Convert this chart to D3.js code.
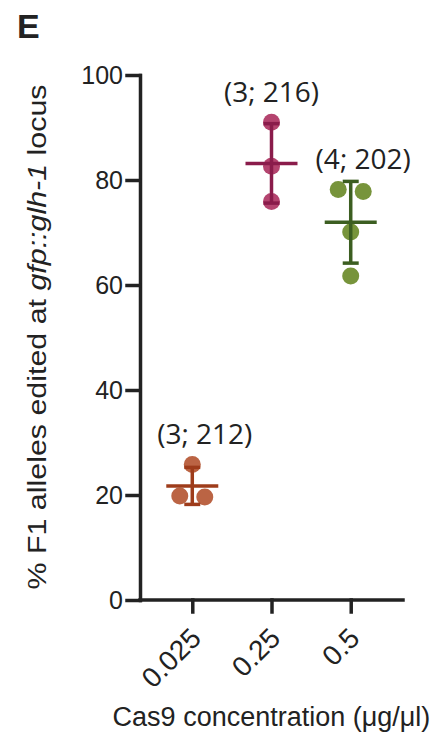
<!doctype html>
<html>
  <head>
    <meta charset="utf-8">
    <script src="https://cdn.jsdelivr.net/npm/d3@7/dist/d3.min.js"></script>
    <style>
      body { margin: 0; background: #fff; }
      .axis path, .axis line { stroke: #222; stroke-width: 3.5; stroke-linecap: square; }
      .axis text { font-family: "Liberation Sans", Arial, sans-serif; font-size: 25px; fill: #222; }
      .count { font-family: "Open Sans", "Noto Sans", sans-serif; font-size: 28px; fill: #222; }
      .title { font-family: "Liberation Sans", Arial, sans-serif; fill: #222; }
    </style>
  </head>
  <body>
    <div id="chart"></div>
    <script>
      // Cas9 concentration groups
      const concentrations = ["0.025", "0.25", "0.5"];
      // % F1 alleles edited, one value per replicate
      const replicates = [
        [25.8, 19.8, 19.6],
        [91.0, 82.6, 75.9],
        [77.8, 78.2, 70.1, 61.7]
      ];
      // total F1 animals scored per group
      const totals = [212, 216, 202];
      const yTicks = [0, 20, 40, 60, 80, 100];

      const pointColors = ["#bb6444", "#b4446f", "#77943b"];
      const lineColors = ["#9e3c1b", "#8a1c4b", "#3c5e21"];

      const width = 448,
        height = 740,
        r = 8.5;

      const svg = d3.select("#chart").append("svg")
        .attr("width", width)
        .attr("height", height);

      const x = d3.scalePoint()
        .domain(concentrations)
        .range([140, 403])
        .padding(0.66);

      const y = d3.scaleLinear()
        .domain([0, 100])
        .range([600, 75]);

      // panel letter
      svg.append("text")
        .attr("class", "title")
        .attr("x", 17)
        .attr("y", 38)
        .style("font-size", "34px")
        .style("font-weight", "bold")
        .text("E");

      // axes
      svg.append("g")
        .attr("class", "axis")
        .attr("transform", "translate(140,0)")
        .call(d3.axisLeft(y).tickValues(yTicks).tickSize(13).tickSizeOuter(0).tickPadding(4))
        .selectAll("text").attr("dy", "0.34em");

      const xAxis = svg.append("g")
        .attr("class", "axis")
        .attr("transform", "translate(0,600)")
        .call(d3.axisBottom(x).tickSize(12).tickSizeOuter(0));

      xAxis.select(".domain").attr("d", "M140,0H403");

      xAxis.selectAll(".tick text")
        .attr("text-anchor", "end")
        .attr("x", 0)
        .attr("y", 0)
        .attr("dy", 0)
        .style("font-size", "28px")
        .attr("transform", "translate(10,40) rotate(-45)");

      // axis titles
      const yTitle = svg.append("text")
        .attr("class", "title")
        .attr("text-anchor", "middle")
        .attr("transform", "translate(46,337) rotate(-90)")
        .style("font-size", "26px")
        .attr("textLength", 505)
        .attr("lengthAdjust", "spacingAndGlyphs");
      yTitle.append("tspan").text("% F1 alleles edited at ");
      yTitle.append("tspan").style("font-style", "italic").text("gfp::glh-1");
      yTitle.append("tspan").text(" locus");

      svg.append("text")
        .attr("class", "title")
        .attr("text-anchor", "middle")
        .attr("x", 271.5)
        .attr("y", 726)
        .style("font-size", "27px")
        .text("Cas9 concentration (\u03bcg/\u03bcl)");

      // spread points that would overlap into side-by-side positions
      function dodge(values) {
        const order = d3.range(values.length).sort((a, b) => values[b] - values[a]);
        const offsets = new Array(values.length).fill(0);
        let cluster = [];
        const flush = () => {
          cluster.forEach((idx, k) => {
            offsets[idx] = (k - (cluster.length - 1) / 2) * 25;
          });
          cluster = [];
        };
        order.forEach(idx => {
          if (cluster.length && Math.abs(y(values[idx]) - y(values[cluster[cluster.length - 1]])) >= 2 * r) flush();
          cluster.push(idx);
        });
        flush();
        return offsets;
      }

      replicates.forEach((vals, i) => {
        const cx = x(concentrations[i]),
          m = d3.mean(vals),
          sd = d3.deviation(vals),
          offsets = dodge(vals);

        const g = svg.append("g");

        g.selectAll("circle")
          .data(vals)
          .join("circle")
            .attr("cx", (d, j) => cx + offsets[j])
            .attr("cy", d => y(d))
            .attr("r", r)
            .attr("fill", pointColors[i]);

        const lines = [
          [cx, y(m - sd), cx, y(m + sd)],
          [cx - 8, y(m + sd), cx + 8, y(m + sd)],
          [cx - 8, y(m - sd), cx + 8, y(m - sd)],
          [cx - 26, y(m), cx + 26, y(m)]
        ];

        g.selectAll("line")
          .data(lines)
          .join("line")
            .attr("x1", d => d[0])
            .attr("y1", d => d[1])
            .attr("x2", d => d[2])
            .attr("y2", d => d[3])
            .attr("stroke", lineColors[i])
            .attr("stroke-width", 3.5);

        const top = Math.min(y(d3.max(vals)) - r, y(m + sd));
        g.append("text")
          .attr("class", "count")
          .attr("text-anchor", "middle")
          .attr("x", cx + d3.max(offsets))
          .attr("y", top - 12)
          .text("(" + vals.length + "; " + totals[i] + ")");
      });
    </script>
  </body>
</html>
